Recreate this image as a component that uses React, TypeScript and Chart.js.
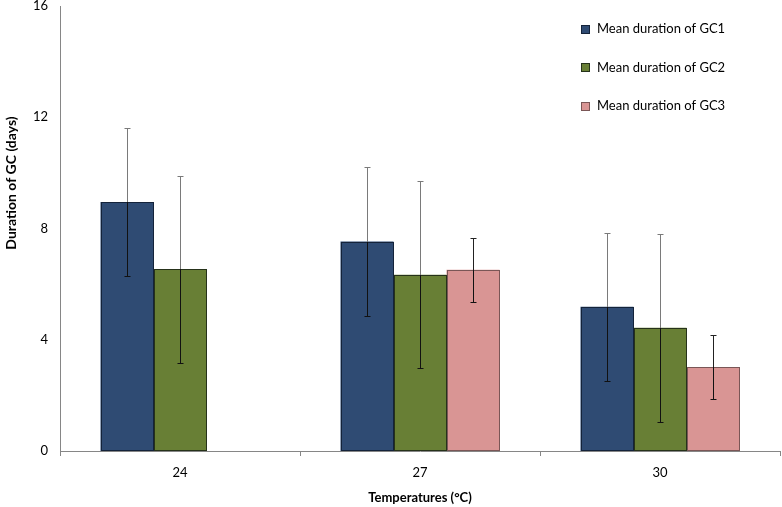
import React, { useEffect, useRef } from "react";
import { Chart, registerables } from "chart.js";

Chart.register(...registerables);

const categories = ["24", "27", "30"];
const seriesLabels = ["Mean duration of GC1", "Mean duration of GC2", "Mean duration of GC3"];
const gc1Values = [8.95, 7.53, 5.19];
const gc2Values = [6.53, 6.34, 4.43];
const gc3Values = [null, 6.52, 3.02];
const gc1Errors = [2.66, 2.67, 2.66];
const gc2Errors = [3.37, 3.37, 3.38];
const gc3Errors = [null, 1.15, 1.15];
const yTicks = [0, 4, 8, 12, 16];
const xTitle = "Temperatures (°C)";
const yTitle = "Duration of GC (days)";

const fills = ["#2F4B73", "#687F35", "#D99594"];
const borders = ["#14233A", "#26321A", "#7A5656"];
const FONT = "Lato, 'Open Sans', sans-serif";

const errorBarPlugin = {
  id: "errorBars",
  afterDatasetsDraw(chart: any) {
    const ctx = chart.ctx;
    const yScale = chart.scales.y;
    const errs = [gc1Errors, gc2Errors, gc3Errors];
    chart.data.datasets.forEach((ds: any, di: number) => {
      const meta = chart.getDatasetMeta(di);
      meta.data.forEach((bar: any, i: number) => {
        if (ds.data[i] == null) return;
        const { x, y, base, width } = bar.getProps(["x", "y", "base", "width"], true);
        const l = Math.round(x - width / 2) + 0.5;
        const r = Math.round(x + width / 2) - 0.5;
        const t = Math.round(y) + 0.5;
        const b = Math.round(base) - 0.5;
        ctx.save();
        ctx.strokeStyle = borders[di];
        ctx.lineWidth = 1;
        ctx.strokeRect(l, t, r - l, b - t);
        ctx.restore();
      });
    });
    chart.data.datasets.forEach((ds: any, di: number) => {
      const meta = chart.getDatasetMeta(di);
      meta.data.forEach((bar: any, i: number) => {
        const v = ds.data[i];
        const e = errs[di][i];
        if (v == null || e == null) return;
        const x = Math.round(bar.x) + 0.5;
        const yTop = Math.round(yScale.getPixelForValue(v + e)) + 0.5;
        const yBot = Math.round(yScale.getPixelForValue(v - e)) + 0.5;
        const yVal = Math.round(yScale.getPixelForValue(v));
        ctx.save();
        ctx.lineWidth = 1;
        ctx.strokeStyle = di < 2 ? "#7a7a7a" : "#222";
        ctx.beginPath();
        ctx.moveTo(x, yTop);
        ctx.lineTo(x, yVal);
        ctx.moveTo(x - 3, yTop);
        ctx.lineTo(x + 3, yTop);
        ctx.stroke();
        ctx.strokeStyle = "#111";
        ctx.beginPath();
        ctx.moveTo(x, yVal);
        ctx.lineTo(x, yBot);
        ctx.moveTo(x - 3, yBot);
        ctx.lineTo(x + 3, yBot);
        ctx.stroke();
        ctx.restore();
      });
    });
  },
};

const textPlugin = {
  id: "customText",
  afterDraw(chart: any) {
    const ctx = chart.ctx;
    ctx.save();
    chart.data.datasets.forEach((ds: any, i: number) => {
      const cy = 29 + i * 38.5;
      ctx.fillStyle = ds.backgroundColor;
      ctx.fillRect(581, Math.round(cy - 4.5), 9, 9);
      ctx.strokeStyle = borders[i];
      ctx.lineWidth = 1;
      ctx.strokeRect(581.5, Math.round(cy - 4.5) + 0.5, 8, 8);
      ctx.fillStyle = "#000";
      ctx.font = `13px ${FONT}`;
      ctx.textBaseline = "middle";
      ctx.textAlign = "left";
      ctx.fillText(ds.label, 597, cy);
    });
    ctx.font = `bold 13px ${FONT}`;
    ctx.textAlign = "center";
    ctx.textBaseline = "middle";
    ctx.fillText(xTitle, 420, 498);
    ctx.translate(11, 183);
    ctx.rotate(-Math.PI / 2);
    ctx.font = `bold 14px ${FONT}`;
    ctx.fillText(yTitle, 0, 0);
    ctx.restore();
  },
};

export default function App() {
  const ref = useRef<HTMLCanvasElement>(null);
  useEffect(() => {
    document.body.style.margin = "0";
    const series = [gc1Values, gc2Values, gc3Values];
    const chart = new Chart(ref.current!, {
      type: "bar",
      data: {
        labels: categories,
        datasets: series.map((d, i) => ({
          label: seriesLabels[i],
          data: d,
          backgroundColor: fills[i],
          borderWidth: 0,
          inflateAmount: 0,
          categoryPercentage: 0.6625,
          barPercentage: 1,
        })),
      },
      options: {
        animation: false,
        responsive: false,
        devicePixelRatio: 1,
        layout: { padding: { top: 6, right: 2, left: 0, bottom: 0 } },
        plugins: { legend: { display: false }, tooltip: { enabled: false } },
        scales: {
          x: {
            grid: { display: true, drawOnChartArea: false, drawTicks: true, tickLength: 5, color: "#868686" },
            border: { color: "#868686" },
            ticks: { color: "#000", font: { family: FONT, size: 13 }, padding: 9 },
            afterFit: (s: any) => { s.height = 56; s.paddingLeft = 0; s.paddingRight = 0; },
          },
          y: {
            min: 0,
            max: 16,
            afterBuildTicks: (s: any) => { s.ticks = yTicks.map((v) => ({ value: v })); },
            grid: { display: false },
            border: { color: "#868686" },
            ticks: { color: "#000", font: { family: FONT, size: 13 }, padding: 4 },
            afterFit: (s: any) => { s.width = 60; s.paddingTop = 0; s.paddingBottom = 0; },
          },
        },
      },
      plugins: [errorBarPlugin, textPlugin],
    });
    return () => chart.destroy();
  }, []);
  return <canvas ref={ref} width={782} height={507} style={{ display: "block" }} />;
}
